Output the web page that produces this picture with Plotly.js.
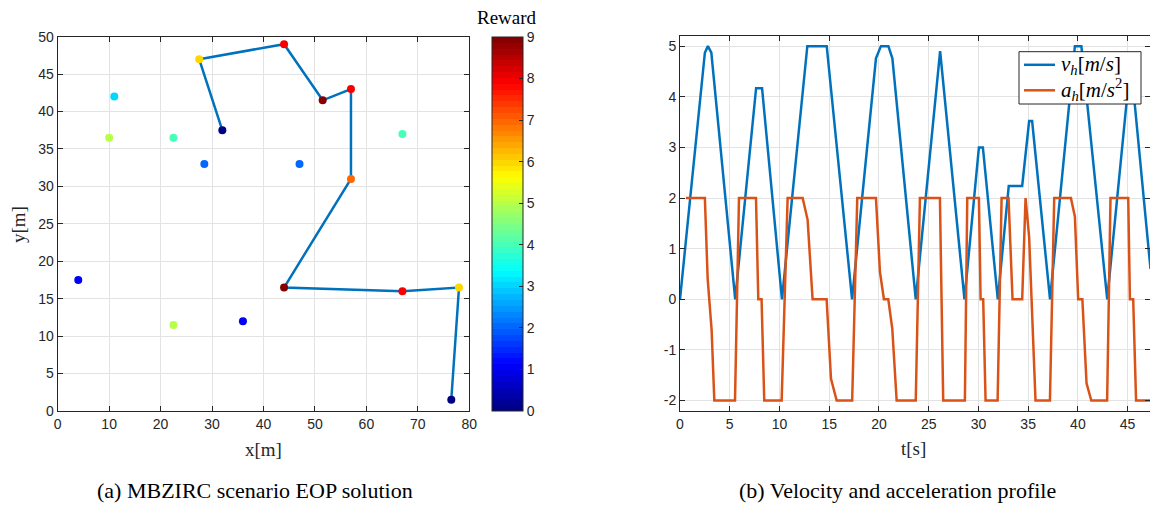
<!DOCTYPE html>
<html>
<head>
<meta charset="utf-8">
<script src="https://cdn.plot.ly/plotly-3.0.1.min.js"></script>
<style>
  html, body { margin: 0; padding: 0; background: #ffffff; }
  #chart { width: 1150px; height: 506px; }
</style>
</head>
<body>
<div id="chart"></div>
<script>
// ---- (a) scenario: target positions and rewards ----
const targetX = [32, 27.5, 44, 51.5, 57, 57, 44, 67, 78, 76.5, 11, 10, 22.5, 28.5, 47, 67, 4, 22.5, 36];
const targetY = [37.5, 47, 49, 41.5, 43, 31, 16.5, 16, 16.5, 1.5, 42, 36.5, 36.5, 33, 33, 37, 17.5, 11.5, 12];
const targetReward = [0, 6, 8, 9, 8, 7, 9, 8, 6, 0, 3, 5, 4, 2, 2, 4, 1, 5, 1];

// visiting order of the solution path
const pathX = [32, 27.5, 44, 51.5, 57, 57, 44, 67, 78, 76.5];
const pathY = [37.5, 47, 49, 41.5, 43, 31, 16.5, 16, 16.5, 1.5];

// ---- (b) velocity and acceleration profile ----
const velT = [0, 2.5, 2.8, 3.15, 5.55, 7.65, 8.25, 10.25, 12.8, 14.75, 17.3, 19.7, 20.2, 20.95, 21.35,
              23.7, 26.15, 28.6, 30.05, 30.45, 31.95, 33.05, 34.4, 35.1, 35.4, 37.2, 39.7, 40.35,
              42.95, 45.05, 45.55, 47.3];
const velV = [0, 4.87, 5, 4.87, 0, 4.17, 4.17, 0, 5, 5, 0, 4.76, 5, 5, 4.76,
              0, 4.9, 0, 3, 3, 0, 2.24, 2.24, 3.52, 3.52, 0, 5, 5,
              0, 4.2, 4.2, 0.6];

const accT = [0.6, 2.5, 2.78, 3.18, 3.45, 5.53, 5.93, 7.64, 7.87, 8.2, 8.47, 10.22, 10.82, 12.33, 12.83,
              13.33, 14.74, 15.18, 15.75, 17.31, 17.82, 19.7, 20.1, 20.5, 20.94, 21.34, 21.78, 23.7,
              24.12, 26.13, 26.46, 28.64, 28.88, 30.05, 30.22, 30.48, 30.72, 31.93, 32.33, 33.03,
              33.43, 34.4, 34.74, 35.1, 35.74, 37.19, 37.62, 39.3, 39.7, 40.03, 40.45, 40.87, 41.35,
              42.94, 43.28, 45.06, 45.23, 45.56, 45.85, 47.3];
const accA = [2, 2, 0.41, -0.61, -2, -2, 2, 2, 0, 0, -2, -2, 2, 2, 1.57,
              0, 0, -1.57, -2, -2, 2, 2, 0.54, 0, 0, -0.58, -2, -2,
              2, 2, -2, -2, 2, 2, 0, 0, -2, -2, 2, 2,
              0, 0, 2, 1.23, -2, -2, 2, 2, 1.63, 0, 0, -1.66, -2,
              -2, 2, 2, 0, 0, -2, -2];

// tick labels
const mapXTicks = [0, 10, 20, 30, 40, 50, 60, 70, 80];
const mapYTicks = [0, 5, 10, 15, 20, 25, 30, 35, 40, 45, 50];
const timeTicks = [0, 5, 10, 15, 20, 25, 30, 35, 40, 45];
const profileTicks = [-2, -1, 0, 1, 2, 3, 4, 5];
const profileTickText = ['-2', '-1', '0', '1', '2', '3', '4', '5'];
const rewardTicks = [0, 1, 2, 3, 4, 5, 6, 7, 8, 9];

// legend labels of the profile panel
const velLabel = '<i>v</i><sub><i>h</i></sub>[<i>m</i>/<i>s</i>]';
const accLabel = '<i>a</i><sub><i>h</i></sub>[<i>m</i>/<i>s</i><sup>2</sup>]';

const velColor = '#0072BD';
const accColor = '#D95319';

// 64-step jet colormap as a stepped colorscale
function jet(f) {
  const c = v => Math.round(255 * Math.max(0, Math.min(1, v)));
  return 'rgb(' + c(1.5 - Math.abs(4 * f - 3)) + ',' + c(1.5 - Math.abs(4 * f - 2)) + ',' + c(1.5 - Math.abs(4 * f - 1)) + ')';
}
const jetScale = [];
const N = 64;
for (let i = 0; i < N; i++) {
  const col = jet((i + 0.5) / N);
  jetScale.push([i / N, col]);
  jetScale.push([(i + 1) / N, col]);
}

const W = 1150, H = 506;
const px = v => v / W;
const py = v => 1 - v / H;

const axisColor = '#262626';
const gridColor = '#e3e3e3';
const tickFont = { family: 'Liberation Sans, Arial, sans-serif', size: 14, color: axisColor };
const serif = 'Liberation Serif, Times New Roman, serif';

function axisStyle(extra) {
  return Object.assign({
    showline: true, mirror: 'ticks', linecolor: axisColor, linewidth: 1,
    ticks: 'inside', ticklen: 5, tickcolor: axisColor, tickwidth: 1,
    showgrid: true, gridcolor: gridColor, gridwidth: 1, zeroline: false,
    tickfont: tickFont, fixedrange: true
  }, extra);
}

const traces = [
  {
    x: pathX, y: pathY, xaxis: 'x', yaxis: 'y', type: 'scatter', mode: 'lines',
    line: { color: velColor, width: 2.5 }, showlegend: false, hoverinfo: 'skip'
  },
  {
    x: targetX, y: targetY, xaxis: 'x', yaxis: 'y', type: 'scatter', mode: 'markers',
    marker: {
      size: 8, color: targetReward, cmin: 0, cmax: 9, colorscale: jetScale,
      showscale: true,
      colorbar: {
        x: px(491.7), xanchor: 'left', xref: 'paper',
        y: py(411), yanchor: 'bottom', yref: 'paper',
        thickness: 31, thicknessmode: 'pixels',
        len: 374.3, lenmode: 'pixels',
        xpad: 0, ypad: 0,
        outlinewidth: 1, outlinecolor: axisColor,
        ticks: 'inside', ticklen: 4, tickcolor: axisColor,
        tickvals: rewardTicks, ticktext: rewardTicks.map(String),
        tickfont: tickFont
      }
    },
    showlegend: false
  },
  {
    x: velT, y: velV, xaxis: 'x2', yaxis: 'y2', type: 'scatter', mode: 'lines',
    line: { color: velColor, width: 2.5 }, showlegend: false
  },
  {
    x: accT, y: accA, xaxis: 'x2', yaxis: 'y2', type: 'scatter', mode: 'lines',
    line: { color: accColor, width: 2.5 }, showlegend: false
  }
];

const ann = (text, x, y, size, extra) => Object.assign({
  text: text, x: px(x), y: py(y), xref: 'paper', yref: 'paper',
  showarrow: false, xanchor: 'center', yanchor: 'middle',
  font: { family: serif, size: size, color: '#000000' }
}, extra || {});

const paperLine = (x0, x1, y, color) => ({
  type: 'line', xref: 'paper', yref: 'paper', layer: 'above',
  x0: px(x0), x1: px(x1), y0: py(y), y1: py(y),
  line: { color: color, width: 2.5 }
});

const layout = {
  width: W, height: H,
  margin: { l: 0, r: 0, t: 0, b: 0 },
  paper_bgcolor: '#ffffff', plot_bgcolor: '#ffffff',
  showlegend: false,
  xaxis: axisStyle({
    domain: [px(57.7), px(469.3)], range: [0, 80], anchor: 'y',
    tickvals: mapXTicks, ticktext: mapXTicks.map(String)
  }),
  yaxis: axisStyle({
    domain: [py(411), py(36.7)], range: [0, 50], anchor: 'x',
    tickvals: mapYTicks, ticktext: mapYTicks.map(String)
  }),
  xaxis2: axisStyle({
    domain: [px(680), 1], range: [0, 47.25], anchor: 'y2',
    tickvals: timeTicks, ticktext: timeTicks.map(String)
  }),
  yaxis2: axisStyle({
    domain: [py(410.7), py(36)], range: [-2.2, 5.2], anchor: 'x2',
    tickvals: profileTicks, ticktext: profileTickText
  }),
  shapes: [
    // legend box of the profile panel
    {
      type: 'rect', xref: 'paper', yref: 'paper', layer: 'above',
      x0: px(1019), x1: px(1141), y0: py(104), y1: py(51.7),
      fillcolor: '#ffffff', line: { color: axisColor, width: 1 }
    },
    paperLine(1024, 1055, 64.8, velColor),
    paperLine(1024, 1055, 90.3, accColor)
  ],
  annotations: [
    ann('Reward', 507, 17, 19),
    ann('x[m]', 263.5, 449, 19, { font: { family: serif, size: 19, color: axisColor } }),
    ann('y[m]', 18, 225, 19, { textangle: -90, font: { family: serif, size: 19, color: axisColor } }),
    ann('t[s]', 913, 448, 19, { font: { family: serif, size: 19, color: axisColor } }),
    ann(velLabel, 1059, 65, 21, { xanchor: 'left' }),
    ann(accLabel, 1059, 90, 21, { xanchor: 'left' }),
    ann('(a) MBZIRC scenario EOP solution', 255, 490, 22),
    ann('(b) Velocity and acceleration profile', 897, 490, 22)
  ]
};

Plotly.newPlot('chart', traces, layout, { displayModeBar: false, staticPlot: true });
</script>
</body>
</html>
